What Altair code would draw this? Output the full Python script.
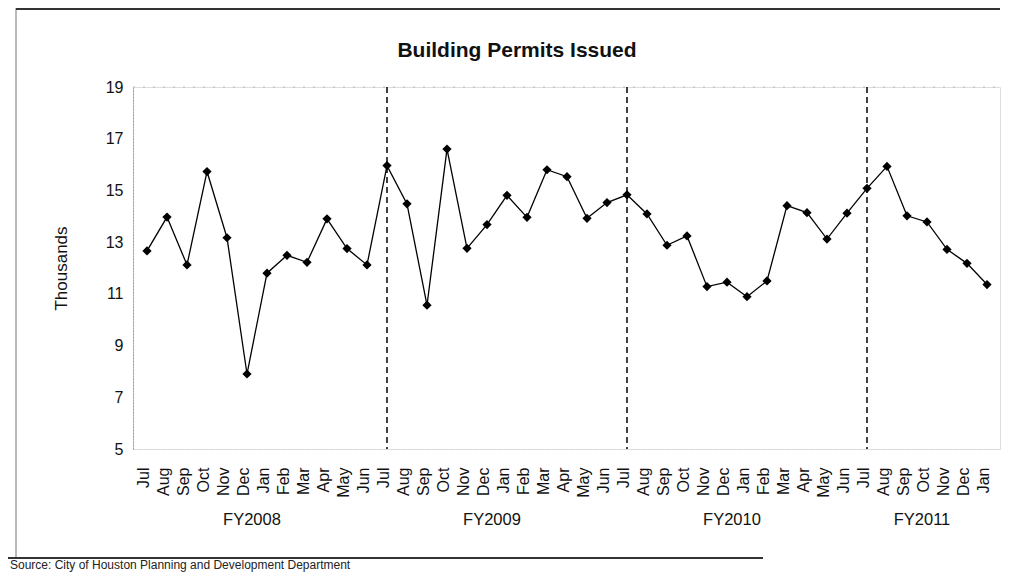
import altair as alt
import pandas as pd

months = (["Jul", "Aug", "Sep", "Oct", "Nov", "Dec", "Jan", "Feb", "Mar", "Apr", "May", "Jun"] * 3
          + ["Jul", "Aug", "Sep", "Oct", "Nov", "Dec", "Jan"])
permits = [12.66, 13.97, 12.12, 15.73, 13.17, 7.90, 11.80, 12.49, 12.22, 13.90, 12.75, 12.12,
           15.96, 14.48, 10.56, 16.60, 12.76, 13.68, 14.81, 13.96, 15.80, 15.53, 13.92, 14.53,
           14.83, 14.09, 12.88, 13.24, 11.28, 11.45, 10.89, 11.50, 14.41, 14.14, 13.12, 14.12,
           15.08, 15.93, 14.02, 13.78, 12.72, 12.18, 11.36]
fiscal_years = ["FY2008", "FY2009", "FY2010", "FY2011"]
fy_mid_index = [5.5, 17.5, 29.5, 39.0]
divider_index = [12, 24, 36]
y_ticks = [5, 7, 9, 11, 13, 15, 17, 19]

FONT = "Liberation Sans"
W, H = 867, 362

df = pd.DataFrame({"idx": list(range(len(permits))), "month": months, "value": permits})
fy_df = pd.DataFrame({"idx": fy_mid_index, "fy": fiscal_years})
div_df = pd.DataFrame({"idx": divider_index})
one = pd.DataFrame({"k": [0]})

label_expr = "[" + ",".join("'" + m + "'" for m in months) + "][datum.value]"

xscale = alt.Scale(domain=[-0.7, 42.65], nice=False, zero=False)
yscale = alt.Scale(domain=[5, 19], nice=False, zero=False)

x_axis = alt.Axis(values=list(range(len(months))), labelExpr=label_expr,
                  labelAngle=-90, labelFontSize=16, labelFont=FONT,
                  labelColor="#111", labelPadding=18, labelOffset=-4,
                  ticks=False, tickSize=0, grid=False,
                  domainColor="#cccccc", domainDash=[1, 5], labelFlush=False,
                  labelOverlap=False, labelBound=False)
x_enc = alt.X("idx:Q", scale=xscale, title=None, axis=x_axis)
y_enc = alt.Y("value:Q", scale=yscale,
              axis=alt.Axis(values=y_ticks, labelFontSize=16, labelFont=FONT,
                            labelColor="#111", labelPadding=10, ticks=False, tickSize=0,
                            grid=False, domainColor="#999999", domainDash=[2, 1],
                            labelOverlap=False,
                            title="Thousands", titleFont=FONT, titleFontSize=17,
                            titleFontWeight="normal", titleColor="#111",
                            titleAngle=-90, titleX=-67, titleY=H / 2,
                            titleAlign="center", titleBaseline="alphabetic"))

base = alt.Chart(df)

line = base.mark_line(color="black", strokeWidth=1.3).encode(x=x_enc, y=y_enc)
points = base.mark_point(shape="diamond", filled=True, color="black", size=85,
                         opacity=1).encode(x=x_enc, y=y_enc)

top_rule = alt.Chart(one).mark_rule(color="#bbbbbb", strokeDash=[2, 8], strokeWidth=1).encode(
    y=alt.datum(19), x=alt.value(0), x2=alt.value(W))

dividers = alt.Chart(div_df).mark_rule(color="black", strokeWidth=1.5, strokeDash=[6, 4]).encode(
    x=x_enc, y=alt.value(0), y2=alt.value(H))

fy_text = alt.Chart(fy_df).mark_text(font=FONT, fontSize=16.5, color="#111", dx=-5,
                                     baseline="middle").encode(
    x=x_enc, y=alt.value(433), text="fy:N")

title = alt.Chart(one).mark_text(text="Building Permits Issued", font=FONT, fontSize=21,
                                 fontWeight="bold", color="#111", align="center",
                                 baseline="alphabetic").encode(
    x=alt.value(384), y=alt.value(-30))

border_left = alt.Chart(one).mark_rule(color="#777777", strokeWidth=1).encode(
    x=alt.value(-117), y=alt.value(-79), y2=alt.value(471))
border_top = alt.Chart(one).mark_rule(color="#333333", strokeWidth=2).encode(
    x=alt.value(-117), x2=alt.value(W), y=alt.value(-78))
border_bottom = alt.Chart(one).mark_rule(color="#333333", strokeWidth=2).encode(
    x=alt.value(-125), x2=alt.value(630), y=alt.value(471))

source = alt.Chart(one).mark_text(text="Source: City of Houston Planning and Development Department",
                                  font=FONT, fontSize=12, color="#222", align="left",
                                  baseline="top").encode(x=alt.value(-123), y=alt.value(473))

chart = alt.layer(
    border_left, border_top, border_bottom, top_rule, dividers, line, points, fy_text, title, source
).properties(
    width=W, height=H,
    autosize=alt.AutoSizeParams(type="none"),
    padding={"left": 125, "top": 79, "right": 7, "bottom": 130},
).configure_view(strokeWidth=0).configure_axisX(labelOverlap=False).configure(background="white")

chart.save("out.html", embed_options={"renderer": "svg", "actions": False})
